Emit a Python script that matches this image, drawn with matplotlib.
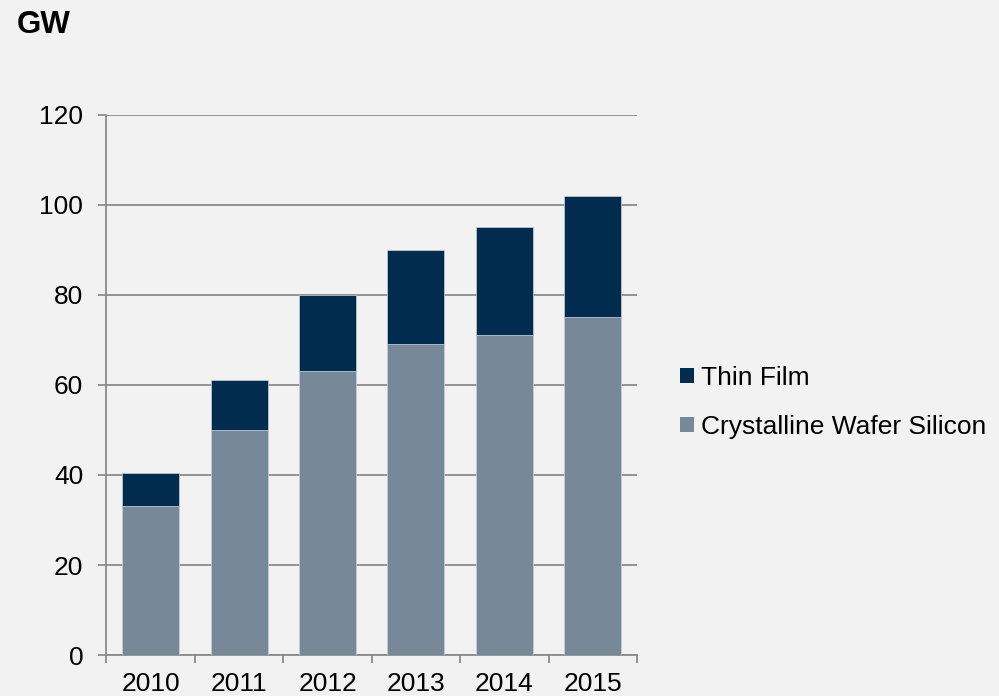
import matplotlib
matplotlib.use("Agg")
import matplotlib.pyplot as plt
from matplotlib.patches import Patch
import numpy as np

years = ["2010", "2011", "2012", "2013", "2014", "2015"]
crystalline = [33, 50, 63, 69, 71, 75]
thin_film = [7.5, 11, 17, 21, 24, 27]
y_ticks = [0, 20, 40, 60, 80, 100, 120]

c_cryst = "#778899"
c_thin = "#022c4f"
bg = "#f2f2f2"
grid_c = "#8c8c8c"

plt.rcParams['font.family'] = ['Liberation Sans', 'DejaVu Sans']

fig = plt.figure(figsize=(9.99, 6.96), dpi=100, facecolor=bg)
ax = fig.add_axes([0.1066, 0.0589, 0.5310, 0.7759], facecolor=bg)

x = np.arange(len(years))
ax.bar(x, crystalline, width=0.645, color=c_cryst, edgecolor="#c9d0d8", linewidth=0.5, zorder=3)
ax.bar(x, thin_film, bottom=crystalline, width=0.645, color=c_thin, edgecolor="#c9d0d8", linewidth=0.5, zorder=3)

ax.set_xlim(-0.5, len(years) - 0.5)
ax.set_ylim(0, 120)
ax.set_yticks(y_ticks)
ax.set_yticklabels([str(v) for v in y_ticks], fontsize=19)
ax.yaxis.grid(True, color=grid_c, linewidth=1.3, zorder=0)
ax.set_axisbelow(True)

ax.set_xticks(np.arange(len(years) + 1) - 0.5)
ax.set_xticklabels([])
ax.set_xticks(x, minor=True)
ax.set_xticklabels(years, minor=True, fontsize=19)
ax.tick_params(axis='x', which='major', length=5.8, width=1.3, color=grid_c, direction='out')
ax.tick_params(axis='x', which='minor', length=0, pad=12)
ax.tick_params(axis='y', length=5.8, width=1.3, color=grid_c, direction='out', pad=11)

for s in ['top', 'right']:
    ax.spines[s].set_visible(False)
for s in ['left', 'bottom']:
    ax.spines[s].set_color(grid_c)
    ax.spines[s].set_linewidth(1.3)

fig.text(0.017, 0.986, "GW", fontsize=22.5, fontweight='bold', va='top', ha='left')

handles = [Patch(facecolor=c_thin, label="Thin Film"),
           Patch(facecolor=c_cryst, label="Crystalline Wafer Silicon")]
fig.legend(handles=handles, loc='center left', bbox_to_anchor=(0.681, 0.422),
           frameon=False, fontsize=19, handlelength=0.5, handleheight=0.5,
           handletextpad=0.3, labelspacing=0.95, borderpad=0, borderaxespad=0)

fig.savefig("out.png", dpi=100, facecolor=bg)
